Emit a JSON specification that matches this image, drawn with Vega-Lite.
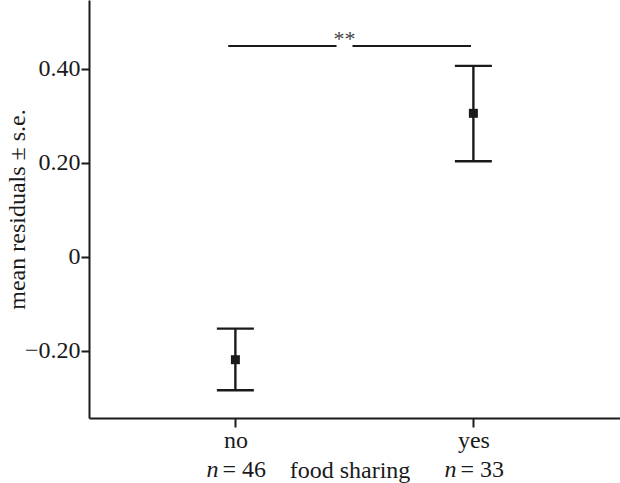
{
  "$schema": "https://vega.github.io/schema/vega-lite/v6.json",
  "width": 531,
  "height": 418,
  "autosize": {"type": "none"},
  "padding": {"left": 89, "top": 0, "right": 0, "bottom": 65},
  "background": "white",
  "config": {
    "view": {"stroke": null},
    "font": "Liberation Serif",
    "axis": {
      "grid": false,
      "domainColor": "#1a1a1a",
      "domainWidth": 2,
      "tickColor": "#1a1a1a",
      "tickWidth": 2,
      "tickSize": 9,
      "labelFont": "Liberation Serif",
      "labelFontSize": 24,
      "labelColor": "#1a1a1a",
      "titleFont": "Liberation Serif",
      "titleFontSize": 24,
      "titleFontWeight": "normal",
      "titleColor": "#1a1a1a"
    }
  },
  "datasets": {
    "main": [
      {"sharing": "no", "pos": 0, "mean": -0.219, "lo": -0.284, "hi": -0.153, "n": "= 46"},
      {"sharing": "yes", "pos": 1, "mean": 0.305, "lo": 0.203, "hi": 0.406, "n": "= 33"}
    ],
    "sig": [
      {"start": -0.03, "end": 0.425, "level": 0.448},
      {"start": 0.492, "end": 0.99, "level": 0.448}
    ],
    "star": [
      {"pos": 0.458, "level": 0.448, "label": "**"}
    ]
  },
  "layer": [
    {
      "data": {"name": "main"},
      "mark": {"type": "errorbar", "ticks": {"size": 37, "thickness": 2.4, "color": "#1a1a1a", "opacity": 1}, "thickness": 2.4, "color": "#1a1a1a", "opacity": 1},
      "encoding": {
        "x": {
          "field": "pos", "type": "quantitative",
          "scale": {"domain": [-0.615, 1.616], "nice": false, "zero": false},
          "axis": {
            "values": [0, 1],
            "labelExpr": "datum.value == 0 ? 'no' : 'yes'",
            "labelFontSize": 24,
            "labelPadding": 1,
            "title": "food sharing",
            "titleX": 260.5,
            "titleY": 59,
            "titleBaseline": "alphabetic",
            "titleAlign": "center"
          }
        },
        "y": {
          "field": "lo", "type": "quantitative",
          "scale": {"domain": [-0.343, 0.546], "nice": false, "zero": false},
          "axis": {
            "values": [-0.2, 0, 0.2, 0.4],
            "labelExpr": "datum.value == 0 ? '0' : format(datum.value, '.2f')",
            "labelFontSize": 24,
            "labelPadding": 1,
            "tickSize": 8,
            "title": "mean residuals ± s.e.",
            "titleX": -65,
            "titleY": 209,
            "titleAngle": -90,
            "titleBaseline": "alphabetic",
            "titleAlign": "center"
          }
        },
        "y2": {"field": "hi"}
      }
    },
    {
      "data": {"name": "main"},
      "mark": {"type": "square", "size": 81, "filled": true, "color": "#1a1a1a", "opacity": 1},
      "encoding": {
        "x": {"field": "pos", "type": "quantitative"},
        "y": {"field": "mean", "type": "quantitative"}
      }
    },
    {
      "data": {"name": "sig"},
      "mark": {"type": "rule", "strokeWidth": 2, "color": "#1a1a1a"},
      "encoding": {
        "x": {"field": "start", "type": "quantitative"},
        "x2": {"field": "end"},
        "y": {"field": "level", "type": "quantitative"}
      }
    },
    {
      "data": {"name": "star"},
      "mark": {"type": "text", "fontSize": 22, "color": "#444", "baseline": "alphabetic", "align": "center", "font": "Liberation Serif"},
      "encoding": {
        "x": {"field": "pos", "type": "quantitative"},
        "y": {"field": "level", "type": "quantitative"},
        "text": {"field": "label"}
      }
    },
    {
      "data": {"name": "main"},
      "mark": {"type": "text", "fontSize": 24, "fontStyle": "italic", "color": "#1a1a1a", "baseline": "alphabetic", "align": "right", "dx": -17, "font": "Liberation Serif"},
      "encoding": {
        "x": {"field": "pos", "type": "quantitative"},
        "y": {"datum": -0.468},
        "text": {"value": "n"}
      }
    },
    {
      "data": {"name": "main"},
      "mark": {"type": "text", "fontSize": 24, "color": "#1a1a1a", "baseline": "alphabetic", "align": "left", "dx": -13, "font": "Liberation Serif"},
      "encoding": {
        "x": {"field": "pos", "type": "quantitative"},
        "y": {"datum": -0.468},
        "text": {"field": "n"}
      }
    }
  ]
}
